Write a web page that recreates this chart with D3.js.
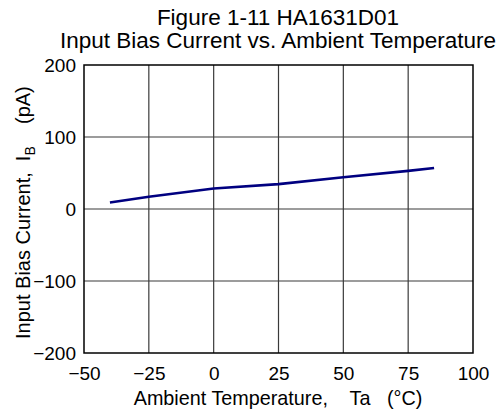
<!DOCTYPE html>
<html>
<head>
<meta charset="utf-8">
<script src="https://cdn.jsdelivr.net/npm/d3@7"></script>
<style>
  html, body { margin: 0; padding: 0; background: #fff; }
  svg { display: block; font-family: "Liberation Sans", Arial, sans-serif; }
</style>
</head>
<body>
<svg id="chart" width="500" height="418"></svg>
<script>
const temps = [-40, -25, 0, 25, 50, 75, 85];
const biasCurrent = [9, 17, 28.5, 34.5, 44, 53, 57];
const xTicks = [-50, -25, 0, 25, 50, 75, 100];
const yTicks = [-200, -100, 0, 100, 200];
const titleLines = ["Figure 1-11 HA1631D01", "Input Bias Current vs. Ambient Temperature"];

(function () {
const svg = d3.select("#chart");
const pL = 84, pR = 473, pT = 65, pB = 353;

const x = d3.scaleLinear().domain([-50, 100]).range([pL, pR]);
const y = d3.scaleLinear().domain([-200, 200]).range([pB, pT]);

const fmt = d => d < 0 ? "\u2212" + Math.abs(d) : String(d);

// grid
svg.append("g").selectAll("line").data(xTicks.slice(1, -1)).join("line")
  .attr("x1", d => x(d)).attr("x2", d => x(d))
  .attr("y1", pT).attr("y2", pB)
  .attr("stroke", "#3a3a3a").attr("stroke-width", 1.2);
svg.append("g").selectAll("line").data(yTicks.slice(1, -1)).join("line")
  .attr("y1", d => y(d)).attr("y2", d => y(d))
  .attr("x1", pL).attr("x2", pR)
  .attr("stroke", "#3a3a3a").attr("stroke-width", 1.2);

// frame
svg.append("rect").attr("x", pL).attr("y", pT)
  .attr("width", pR - pL).attr("height", pB - pT)
  .attr("fill", "none").attr("stroke", "#000").attr("stroke-width", 1.5);

// axes labels via d3 axes
const xAxis = svg.append("g").attr("transform", `translate(0,${pB})`)
  .call(d3.axisBottom(x).tickValues(xTicks).tickFormat(fmt).tickSize(0).tickPadding(14));
const yAxis = svg.append("g").attr("transform", `translate(${pL},0)`)
  .call(d3.axisLeft(y).tickValues(yTicks).tickFormat(fmt).tickSize(0).tickPadding(8));
[xAxis, yAxis].forEach(a => {
  a.select(".domain").remove();
  a.selectAll("text").attr("font-size", 19).attr("fill", "#000")
    .attr("font-family", "Liberation Sans, Arial, sans-serif");
});

// data line
const line = d3.line().x((d, i) => x(temps[i])).y(d => y(d));
svg.append("path").datum(biasCurrent)
  .attr("d", line).attr("fill", "none")
  .attr("stroke", "#000080").attr("stroke-width", 2.6)
  .attr("stroke-linejoin", "round");

// title
svg.append("g").selectAll("text").data(titleLines).join("text")
  .attr("x", 278).attr("y", (d, i) => 25 + i * 23)
  .attr("text-anchor", "middle").attr("font-size", 22.5).attr("fill", "#000")
  .text(d => d);

// x axis title
svg.append("text").attr("x", 278).attr("y", 405)
  .attr("text-anchor", "middle").attr("font-size", 19.8).attr("fill", "#000")
  .attr("xml:space", "preserve")
  .text("Ambient Temperature,    Ta   (\u00B0C)");

// y axis title
const yt = svg.append("text")
  .attr("transform", "translate(30,339) rotate(-90)")
  .attr("text-anchor", "start").attr("font-size", 20).attr("fill", "#000")
  .attr("xml:space", "preserve");
yt.append("tspan").text("Input Bias Current,  I");
yt.append("tspan").attr("font-size", 14).attr("dy", 5).text("B");
yt.append("tspan").attr("dy", -5).text("    (pA)");
})();
</script>
</body>
</html>
